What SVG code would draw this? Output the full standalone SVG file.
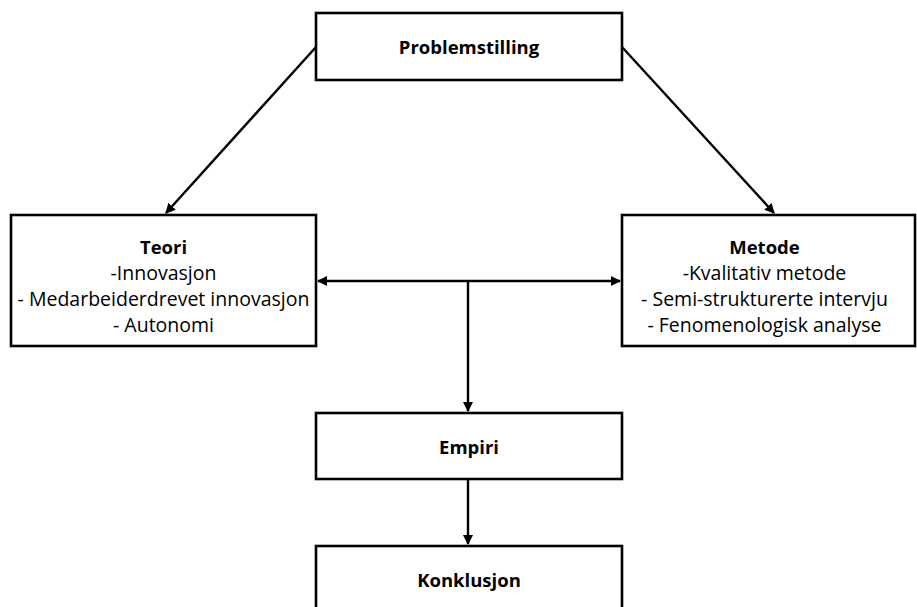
<svg xmlns="http://www.w3.org/2000/svg" width="917" height="607" viewBox="0 0 917 607">
  <style>
    .box { fill: #ffffff; stroke: #000000; stroke-width: 2.6; }
    .link { fill: none; stroke: #000000; stroke-width: 2.4; }
    text { font-family: "Open Sans", "Liberation Sans", sans-serif; font-size: 19.5px; fill: #000000; text-anchor: middle; }
    .title { font-weight: bold; font-size: 18.5px; }
  </style>
  <defs>
    <marker id="head" viewBox="0 0 10 10" refX="9" refY="5" markerWidth="4.2" markerHeight="4.2" orient="auto-start-reverse" markerUnits="strokeWidth">
      <path d="M0,0 L10,5 L0,10 z" fill="#000000"/>
    </marker>
  </defs>

  <rect width="917" height="607" fill="#ffffff"/>

  <g id="connectors">
    <line class="link" x1="316" y1="47" x2="166" y2="213" marker-end="url(#head)"/>
    <line class="link" x1="622" y1="47" x2="774" y2="213" marker-end="url(#head)"/>
    <line class="link" x1="318" y1="281" x2="620" y2="281" marker-start="url(#head)" marker-end="url(#head)"/>
    <line class="link" x1="468" y1="281" x2="468" y2="411" marker-end="url(#head)"/>
    <line class="link" x1="468" y1="480" x2="468" y2="544" marker-end="url(#head)"/>
  </g>

  <g id="problemstilling">
    <rect class="box" x="316" y="13" width="306" height="67"/>
    <text class="title" x="469" y="54">Problemstilling</text>
  </g>

  <g id="teori">
    <rect class="box" x="11" y="215" width="305" height="131"/>
    <text class="title" x="163.5" y="254">Teori</text>
    <text x="163.5" y="280">-Innovasjon</text>
    <text x="163.5" y="306">- Medarbeiderdrevet innovasjon</text>
    <text x="163.5" y="332">- Autonomi</text>
  </g>

  <g id="metode">
    <rect class="box" x="622" y="215" width="293" height="131"/>
    <text class="title" x="764.5" y="254">Metode</text>
    <text x="764.5" y="280">-Kvalitativ metode</text>
    <text x="764.5" y="306">- Semi-strukturerte intervju</text>
    <text x="764.5" y="332">- Fenomenologisk analyse</text>
  </g>

  <g id="empiri">
    <rect class="box" x="316" y="413" width="306" height="66"/>
    <text class="title" x="469" y="454">Empiri</text>
  </g>

  <g id="konklusjon">
    <rect class="box" x="316" y="546" width="306" height="70"/>
    <text class="title" x="469" y="587">Konklusjon</text>
  </g>
</svg>
